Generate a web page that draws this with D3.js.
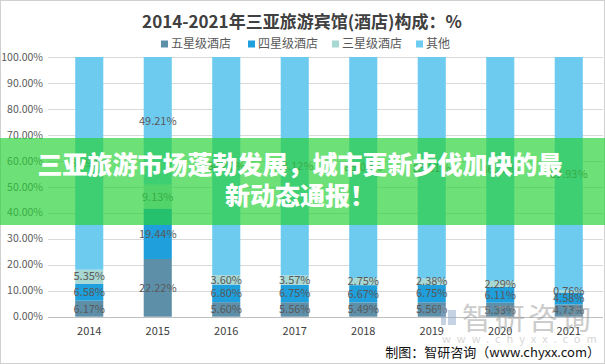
<!DOCTYPE html>
<html><head><meta charset="utf-8">
<script src="https://cdn.jsdelivr.net/npm/d3@7"></script>
<style>html,body{margin:0;padding:0;background:#fff;}svg{display:block;}</style>
</head><body>
<script>
const years = ["2014","2015","2016","2017","2018","2019","2020","2021"];
const seriesNames = ["五星级酒店","四星级酒店","三星级酒店","其他"];
const fiveStar  = [6.17, 22.22, 5.60, 5.56, 5.49, 5.56, 5.38, 4.73];
const fourStar  = [6.58, 19.44, 6.80, 6.75, 6.67, 6.75, 6.11, 4.58];
const threeStar = [5.35, 9.13, 3.60, 3.57, 2.75, 2.38, 2.29, 0.76];
const others    = [81.90, 49.21, 84.00, 84.12, 85.09, 85.31, 86.22, 89.93];
const yTicks = [0,10,20,30,40,50,60,70,80,90,100];
const colors = ["#5e8fa9","#1f9fdb","#a8d8d4","#6ecbf0"];
const title = "2014-2021年三亚旅游宾馆(酒店)构成：%";
const bannerLines = ["三亚旅游市场蓬勃发展，城市更新步伐加快的最","新动态通报！"];
const credit = "制图：智研咨询（www.chyxx.com）";

const W = 605, H = 364;
const svg = d3.select("body").append("svg").attr("width", W).attr("height", H);
const font = "'Noto Sans CJK SC','Noto Sans',sans-serif";

svg.append("rect").attr("x",0.5).attr("y",0.5).attr("width",W-1).attr("height",H-1)
  .attr("fill","#fff").attr("stroke","#d0d0d0");

const x = d3.scaleBand().domain(years).range([55, 603]).paddingInner(0.59).paddingOuter(0.295);
const y = d3.scaleLinear().domain([0,100]).range([316.7, 57]);

svg.append("g").selectAll("line").data(yTicks).join("line")
  .attr("x1",48).attr("x2",603)
  .attr("y1",d=>Math.round(y(d))+0.5).attr("y2",d=>Math.round(y(d))+0.5)
  .attr("stroke",d=>d===0?"#bfbfbf":"#d9d9d9").attr("stroke-width",1);

svg.append("g").selectAll("text").data(yTicks).join("text")
  .attr("x",43).attr("y",d=>y(d)).attr("dy","0.35em").attr("text-anchor","end")
  .attr("font-family",font).attr("font-size",10.5).attr("fill","#595959")
  .text(d=>d.toFixed(2)+"%");

svg.append("g").selectAll("text").data(years).join("text")
  .attr("x",d=>x(d)+x.bandwidth()/2).attr("y",331).attr("dy","0.35em").attr("text-anchor","middle")
  .attr("font-family",font).attr("font-size",11).attr("fill","#404040")
  .text(d=>d);

const table = years.map((yr,i)=>({year:yr, s0:fiveStar[i], s1:fourStar[i], s2:threeStar[i], s3:others[i]}));
const stack = d3.stack().keys(["s0","s1","s2","s3"])(table);

const gBars = svg.append("g");
stack.forEach((layer,li)=>{
  gBars.append("g").selectAll("rect").data(layer).join("rect")
    .attr("x",d=>x(d.data.year)).attr("width",x.bandwidth())
    .attr("y",d=>y(Math.min(d[1],100))).attr("height",d=>y(d[0])-y(Math.min(d[1],100)))
    .attr("fill",colors[li]);
});
stack.forEach((layer,li)=>{
  gBars.append("g").selectAll("text").data(layer).join("text")
    .attr("x",d=>x(d.data.year)+x.bandwidth()/2)
    .attr("y",d=>y((d[0]+Math.min(d[1],100))/2)).attr("dy","0.35em").attr("text-anchor","middle")
    .attr("font-family",font).attr("font-size",11).attr("fill","#595959")
    .text(d=>(d[1]-d[0]).toFixed(2)+"%");
});

svg.append("text").attr("x",302).attr("y",22).attr("dy","0.35em").attr("text-anchor","middle")
  .attr("font-family",font).attr("font-size",17).attr("font-weight","bold").attr("fill","#404040")
  .text(title);

const legX = [161, 248, 332, 416];
const leg = svg.append("g").selectAll("g").data(seriesNames).join("g")
  .attr("transform",(d,i)=>`translate(${legX[i]},44)`);
leg.append("rect").attr("x",0).attr("y",-3.5).attr("width",7).attr("height",7).attr("fill",(d,i)=>colors[i]);
leg.append("text").attr("x",10).attr("y",0).attr("dy","0.35em")
  .attr("font-family",font).attr("font-size",12).attr("fill","#595959").text(d=>d);

const wm = svg.append("g").attr("opacity",0.5);
wm.append("rect").attr("x",441).attr("y",305).attr("width",5).attr("height",20).attr("fill","#8aa6c8");
wm.append("rect").attr("x",448).attr("y",310).attr("width",8).attr("height",15).attr("fill","#8aa6c8");
wm.append("text").attr("x",462).attr("y",318).attr("dy","0.35em")
  .attr("font-family",font).attr("font-size",30).attr("fill","#9a9a9a").attr("letter-spacing",3).text("智研咨询");
wm.append("text").attr("x",442).attr("y",339).attr("dy","0.35em")
  .attr("font-family",font).attr("font-size",11).attr("fill","#b0b0b0").attr("letter-spacing",6).text("www.chyxx.com");

svg.append("text").attr("x",600).attr("y",352).attr("dy","0.35em").attr("text-anchor","end")
  .attr("font-family",font).attr("font-size",13).attr("fill","#111").text(credit);

svg.append("rect").attr("x",0).attr("y",138).attr("width",W).attr("height",87)
  .attr("fill","rgb(42,209,56)").attr("fill-opacity",0.68);
svg.append("g").selectAll("text").data(bannerLines).join("text")
  .attr("x",300).attr("y",(d,i)=>165+i*31).attr("dy","0.35em").attr("text-anchor","middle")
  .attr("font-family",font).attr("font-size",25).attr("font-weight",900).attr("fill","#fff")
  .text(d=>d);
</script>
</body></html>
